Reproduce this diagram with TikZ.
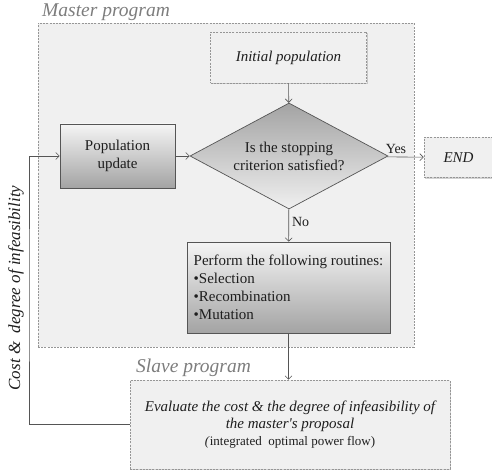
\documentclass[tikz,border=0pt]{standalone}
\usepackage{fontspec}
\setmainfont{Liberation Serif}
\newfontfamily\tnr{Liberation Serif}
\usetikzlibrary{shapes.geometric,arrows.meta,shadows}
\definecolor{panel}{RGB}{240,240,240}
\definecolor{edgegray}{RGB}{150,150,150}
\definecolor{linegray}{RGB}{85,85,85}
\definecolor{titlegray}{RGB}{125,125,125}
\definecolor{txt}{RGB}{30,30,30}
\tikzset{
  panelbox/.style={draw=edgegray, dash pattern=on 2pt off 1.2pt, fill=panel, line width=0.6pt},
  dashbox/.style={panelbox, drop shadow={shadow xshift=1pt, shadow yshift=-1.2pt, opacity=0.35}},
  gradbox/.style={draw=linegray, line width=0.7pt, top color=black!4, bottom color=black!36,
     drop shadow={shadow xshift=1pt, shadow yshift=-1.2pt, opacity=0.35}},
  conn/.style={draw=linegray, line width=0.6pt, -{Straight Barb[length=3.5pt,width=7pt]}},
  body/.style={text=txt, font=\tnr\fontsize{15}{18}\selectfont, align=center, inner sep=0pt},
  title/.style={text=titlegray, font=\tnr\fontsize{19.5}{22}\selectfont\itshape, anchor=west, inner sep=0pt},
}
\begin{document}
\begin{tikzpicture}[x=1pt,y=-1pt]
\useasboundingbox (0,0) rectangle (492,473);
% master panel
\node[panelbox, minimum width=376pt, minimum height=324pt, inner sep=0pt] (master) at (226,185) {};
\node[title] (mtitle) at (42,12) {Master program};
% nodes
\node[dashbox, body, minimum width=156pt, minimum height=51pt, font=\tnr\fontsize{15}{18}\selectfont\itshape] (init) at (288.5,57.5) {Initial population};
\node[diamond, shape aspect=1.87, minimum width=198pt, minimum height=106pt, body,
      draw=linegray, line width=0.7pt, top color=black!36, bottom color=black!6] (dec) at (289,156)
      {Is the stopping\\criterion satisfied?};
\node[gradbox, body, minimum width=115pt, minimum height=64pt] (pop) at (117.5,156) {Population\\update};
\node[gradbox, body, minimum width=203pt, minimum height=91pt, align=left] (rout) at (288.5,287.5)
  {Perform the following routines:\\ \textbullet Selection\\ \textbullet Recombination\\ \textbullet Mutation};
\node[dashbox, body, minimum width=69pt, minimum height=40pt, font=\tnr\fontsize{15}{18}\selectfont\itshape] (endn) at (458.5,157.5) {END};
% slave
\node[title] (stitle) at (136,368) {Slave program};
\node[dashbox, body, minimum width=320pt, minimum height=89pt] (slave) at (290,424.5)
  {{\itshape Evaluate the cost \& the degree of infeasibility of}\\[-0.5pt]
   {\itshape the master\textquotesingle s proposal}\\[-1pt]
   {\fontsize{13}{15}\selectfont \textit{(}integrated\ \ optimal power flow)}};
% side label
\node[text=txt, font=\tnr\fontsize{17}{20}\selectfont\itshape, rotate=90, inner sep=0pt] (side) at (16,288) {Cost \&\ \ degree of infeasibility};
% connectors
\draw[conn] (init) -- (dec);
\draw[conn] (pop) -- (dec);
\draw[conn] (dec) -- node[pos=0.25, above, body, font=\tnr\fontsize{14}{16}\selectfont, yshift=3pt] (yes) {Yes} (endn);
\draw[conn] (dec) -- node[pos=0.4, right, body, font=\tnr\fontsize{14}{16}\selectfont, xshift=3pt] (no) {No} (rout);
\draw[conn] (rout.south) -- (slave.north -| rout.south);
\coordinate (fbx) at (29,300);
\draw[conn] (slave.west) -| (fbx) |- (pop.west);
\end{tikzpicture}
\end{document}
